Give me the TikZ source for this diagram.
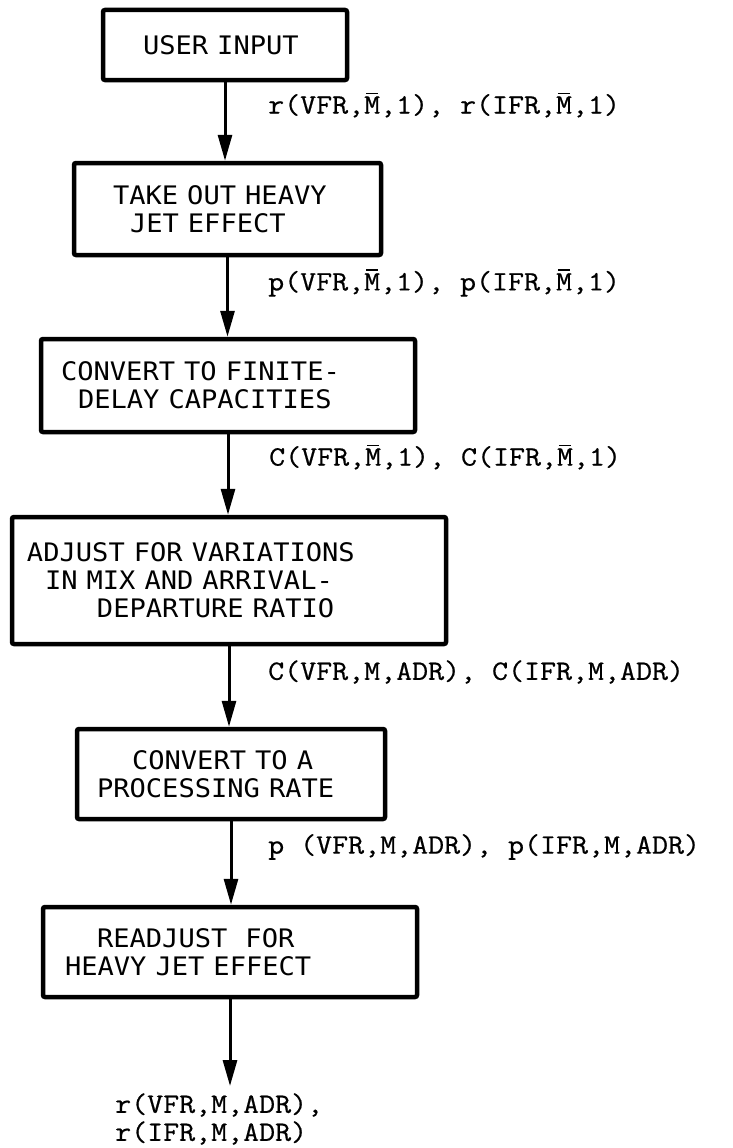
\documentclass[tikz,border=0pt]{standalone}
\usepackage{fontspec}
\usepackage{graphicx}
\newfontfamily\boxfont{DejaVu Sans Mono}
\newfontfamily\lblfont[FakeBold=0.6]{Latin Modern Mono}
\usetikzlibrary{arrows.meta}
\newcommand\mbar{\rlap{\hspace{0.06em}\rule[0.69em]{0.40em}{0.06em}}M}
\newcommand\bx[1]{\scalebox{1.062}[1]{#1}}
\newcommand\lx[1]{\scalebox{1.109}[1]{#1}}
\tikzset{
  procbox/.style={draw, line width=4.5pt, rounded corners=2pt, inner sep=0pt,
    align=left, font=\boxfont\fontsize{25.5}{28}\selectfont},
  flow/.style={line width=3pt, -{Triangle[length=26pt,width=14pt]}},
  lbl/.style={anchor=west, inner sep=0pt, align=left,
    font=\lblfont\fontsize{28}{28}\selectfont}
}
\begin{document}
\begin{tikzpicture}[x=1pt,y=-1pt]
\useasboundingbox (0,0) rectangle (733,1148);
% boxes
\node[procbox, minimum width=244pt, minimum height=70pt, text width=244pt] (b1) at (225,45)
  {\hspace*{40pt}\bx{USER INPUT}};
\node[procbox, minimum width=307pt, minimum height=92pt, text width=307pt] (b2) at (227.5,209)
  {\hspace*{39pt}\bx{TAKE OUT HEAVY}\\\hspace*{56pt}\bx{JET EFFECT}};
\node[procbox, minimum width=374pt, minimum height=93pt, text width=374pt] (b3) at (228,385.5)
  {\hspace*{20pt}\bx{CONVERT TO FINITE-}\\\hspace*{37pt}\bx{DELAY CAPACITIES}};
\node[procbox, minimum width=434pt, minimum height=127pt, text width=434pt] (b4) at (229,580.5)
  {\hspace*{15pt}\bx{ADJUST FOR VARIATIONS}\\\hspace*{33pt}\bx{IN MIX AND ARRIVAL-}\\\hspace*{85pt}\bx{DEPARTURE RATIO}};
\node[procbox, minimum width=308pt, minimum height=90pt, text width=308pt] (b5) at (231,774)
  {\hspace*{55pt}\bx{CONVERT TO A}\\\hspace*{20pt}\bx{PROCESSING RATE}};
\node[procbox, minimum width=374pt, minimum height=90pt, text width=374pt] (b6) at (230,952)
  {\hspace*{54pt}\bx{READJUST\ \ FOR}\\\hspace*{22pt}\bx{HEAVY JET EFFECT}};
% labels
\node[lbl] (l1) at (268,105) {\lx{r(VFR,\mbar,1), r(IFR,\mbar,1)}};
\node[lbl] (l2) at (268,283) {\lx{p(VFR,\mbar,1), p(IFR,\mbar,1)}};
\node[lbl] (l3) at (269,457) {\lx{C(VFR,\mbar,1), C(IFR,\mbar,1)}};
\node[lbl] (l4) at (268,672) {\lx{C(VFR,M,ADR), C(IFR,M,ADR)}};
\node[lbl] (l5) at (268,847) {\lx{p (VFR,M,ADR), p(IFR,M,ADR)}};
\node[lbl] (out) at (115,1119) {\lx{r(VFR,M,ADR),}\\\lx{r(IFR,M,ADR)}};
\coordinate (outtop) at (229,1086);
% connectors
\draw[flow] (b1.south) -- (b1.south |- b2.north);
\draw[flow] (b2.south) -- (b2.south |- b3.north);
\draw[flow] (b3.south) -- (b3.south |- b4.north);
\draw[flow] (b4.south) -- (b4.south |- b5.north);
\draw[flow] (b5.south) -- (b5.south |- b6.north);
\draw[flow] (b6.south) -- (b6.south |- outtop);
\end{tikzpicture}
\end{document}
